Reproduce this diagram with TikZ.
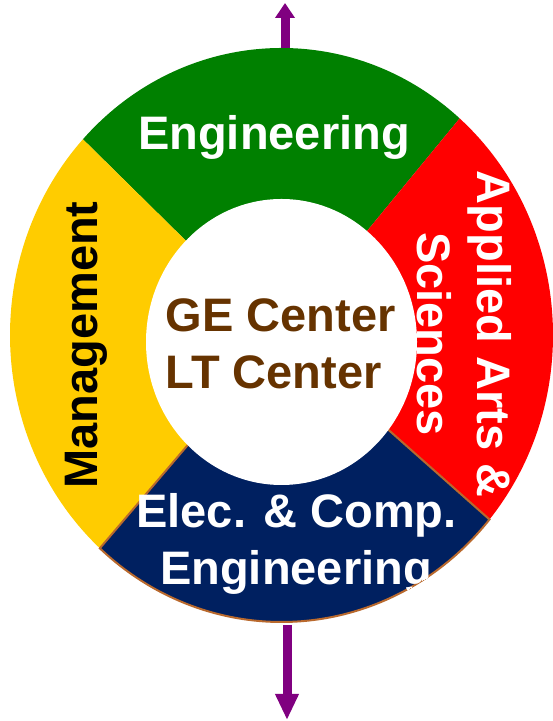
\documentclass[tikz,border=0pt]{standalone}
\usepackage{fontspec}
\setmainfont{Liberation Sans}
\usetikzlibrary{arrows.meta}
\definecolor{engGreen}{RGB}{0,128,0}
\definecolor{artsRed}{RGB}{255,0,0}
\definecolor{mgmtYellow}{RGB}{255,204,0}
\definecolor{eceBlue}{RGB}{0,32,96}
\definecolor{edgeBrown}{RGB}{185,105,45}
\definecolor{centerBrown}{RGB}{102,51,0}
\definecolor{axisPurple}{RGB}{128,0,128}

\begin{document}
\begin{tikzpicture}[x=0.5pt, y=0.5pt,
  lbl/.style={font=\fontsize{23.5}{28}\selectfont\bfseries, inner sep=0pt},
  axis/.style={draw=axisPurple, line width=4.5pt}]
  \useasboundingbox (0,0) rectangle (552,721);
  \coordinate (c) at (281.5,386);
  % ring sectors
  \fill[engGreen] (c) -- ++(49:271.5 and 287) arc[start angle=49, end angle=137, x radius=271.5, y radius=287] -- cycle;
  \fill[mgmtYellow] (c) -- ++(137:271.5 and 287) arc[start angle=137, end angle=228, x radius=271.5, y radius=287] -- cycle;
  \fill[artsRed] (c) -- ++(320:271.5 and 287) arc[start angle=320, end angle=409, x radius=271.5, y radius=287] -- cycle;
  \filldraw[fill=eceBlue, draw=edgeBrown, line width=1pt] (c) -- ++(228:271.5 and 287) arc[start angle=228, end angle=320, x radius=271.5, y radius=287] -- cycle;
  \fill[white] (281.5,379) ellipse [x radius=135.5, y radius=143];

  \node[lbl, text=white, anchor=base] (eng) at (274,571) {Engineering};
  \node[lbl, text=black, rotate=90, anchor=base] (mgmt) at (97,376) {Management};
  \node[lbl, text=white, rotate=-90, anchor=base] (arts) at (477,387) {Applied Arts \&};
  \node[lbl, text=white, rotate=-90, anchor=base] (sci) at (417,387) {Sciences};
  \node[lbl, text=white, anchor=base] (ece) at (296.5,193) {Elec. \& Comp.};
  \begin{scope}
    \clip (281.5,386) ellipse [x radius=271.5, y radius=287];
    \node[lbl, text=white, anchor=base] (eceEng) at (296,136) {Engineering};
  \end{scope}
  \node[lbl, text=centerBrown, anchor=base west] (ge) at (165.5,389) {GE Center};
  \node[lbl, text=centerBrown, anchor=base west] (lt) at (165.5,332) {LT Center};

  % arrows
  \coordinate (upFrom) at (285,673);
  \coordinate (upTo) at (285,718);
  \coordinate (downFrom) at (287,96);
  \coordinate (downTo) at (287,1);
  \draw[axis, -{Triangle[length=7.5pt, width=9.5pt]}] (upFrom) -- (upTo);
  \draw[axis, -{Triangle[length=13pt, width=11pt]}] (downFrom) -- (downTo);
\end{tikzpicture}
\end{document}
